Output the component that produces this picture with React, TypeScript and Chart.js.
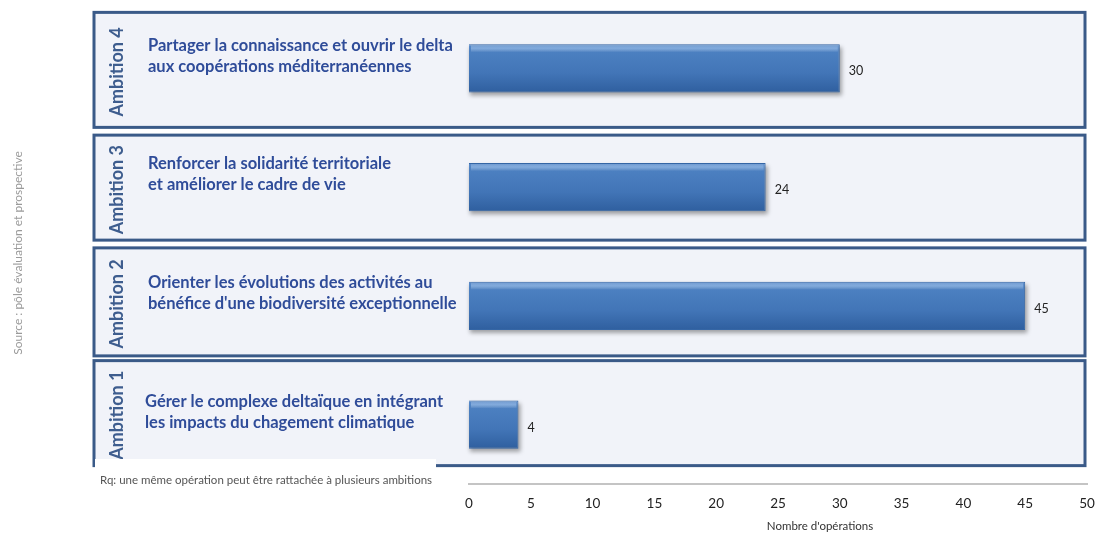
import React, { useEffect, useRef } from "react";
import { Chart, registerables } from "chart.js";

Chart.register(...registerables);

const ambitions = ["Ambition 4", "Ambition 3", "Ambition 2", "Ambition 1"];
const descriptions = [
  ["Partager la connaissance et ouvrir le delta", "aux coopérations méditerranéennes"],
  ["Renforcer la solidarité territoriale", "et améliorer le cadre de vie"],
  ["Orienter les évolutions des activités au", "bénéfice d'une biodiversité exceptionnelle"],
  ["Gérer le complexe deltaïque en intégrant", "les impacts du chagement climatique"],
];
const operations = [30, 24, 45, 4];
const xTicks = [0, 5, 10, 15, 20, 25, 30, 35, 40, 45, 50];
const axisTitle = "Nombre d'opérations";
const noteText = "Rq: une même opération peut être rattachée à plusieurs ambitions";
const sourceText = "Source : pôle évaluation et prospective";

const FONT = "Lato, 'Open Sans', sans-serif";
// box extents relative to each category centre (styling)
const BOX_TOP = [-56, -52, -58, -64];
const BOX_BOTTOM = [59, 53, 50, 41];

const decorPlugin = {
  id: "decor",
  beforeDatasetsDraw(chart: any) {
    const ctx = chart.ctx;
    const y = chart.scales.y;
    ctx.save();
    ctx.fillStyle = "#9a9a9a";
    ctx.font = `12px ${FONT}`;
    ctx.translate(18, 253);
    ctx.rotate(-Math.PI / 2);
    ctx.textAlign = "center";
    ctx.textBaseline = "middle";
    ctx.fillText(sourceText, 0, 0);
    ctx.restore();

    ambitions.forEach((name, i) => {
      const c = y.getPixelForValue(i);
      const top = c + BOX_TOP[i];
      const bottom = c + BOX_BOTTOM[i];
      ctx.save();
      ctx.fillStyle = "#f1f3f9";
      ctx.fillRect(94, top, 991, bottom - top);
      ctx.strokeStyle = "#3a5a88";
      ctx.lineWidth = 3;
      ctx.strokeRect(94, top, 991, bottom - top);
      ctx.save();
      ctx.translate(117, (top + bottom) / 2 + 2);
      ctx.rotate(-Math.PI / 2);
      ctx.fillStyle = "#3e5d8e";
      ctx.font = `bold 18px ${FONT}`;
      ctx.textAlign = "center";
      ctx.textBaseline = "middle";
      ctx.fillText(name, 0, 0);
      ctx.restore();
      ctx.fillStyle = "#2f4c99";
      ctx.font = `bold 16.5px ${FONT}`;
      ctx.textAlign = "left";
      ctx.textBaseline = "middle";
      const x0 = i === 3 ? 145 : 148;
      ctx.fillText(descriptions[i][0], x0, c - 23);
      ctx.fillText(descriptions[i][1], x0, c - 2);
      ctx.restore();
    });

    const meta = chart.getDatasetMeta(0);
    ctx.save();
    ctx.filter = "blur(2px)";
    ctx.fillStyle = "rgba(0,0,0,0.35)";
    meta.data.forEach((bar: any) => {
      const h = bar.height;
      ctx.fillRect(bar.base + 1, bar.y - h / 2 + 3, bar.x - bar.base + 1, h);
    });
    ctx.restore();
  },
  afterDatasetsDraw(chart: any) {
    const ctx = chart.ctx;
    const meta = chart.getDatasetMeta(0);
    ctx.save();
    ctx.fillStyle = "#222";
    ctx.font = `12.5px ${FONT}`;
    ctx.textAlign = "left";
    ctx.textBaseline = "middle";
    meta.data.forEach((bar: any, i: number) => {
      ctx.fillText(String(operations[i]), bar.x + 9, bar.y + 3);
    });
    meta.data.forEach((bar: any) => {
      const h = bar.height;
      const t = bar.y - h / 2;
      const g = ctx.createLinearGradient(0, t, 0, t + 8);
      g.addColorStop(0, "rgba(255,255,255,0.1)");
      g.addColorStop(0.5, "rgba(200,225,255,0.4)");
      g.addColorStop(1, "rgba(255,255,255,0)");
      ctx.fillStyle = g;
      ctx.fillRect(bar.base + 2, t + 1, bar.x - bar.base - 4, 7);
    });
    ctx.fillStyle = "#ffffff";
    ctx.fillRect(95, 459, 341, 40);
    ctx.fillStyle = "#555";
    ctx.font = `11.5px ${FONT}`;
    ctx.textAlign = "left";
    ctx.textBaseline = "middle";
    ctx.fillText(noteText, 100, 480);
    ctx.fillStyle = "#333";
    ctx.font = `11.5px ${FONT}`;
    ctx.textAlign = "center";
    ctx.fillText(axisTitle, 820, 526);
    ctx.restore();
  },
};

export default function App() {
  const ref = useRef<HTMLCanvasElement>(null);
  useEffect(() => {
    const canvas = ref.current!;
    const chart = new Chart(canvas, {
      type: "bar",
      data: {
        labels: ambitions,
        datasets: [
          {
            data: operations,
            backgroundColor: (ctx: any) => {
              const { chart } = ctx;
              const ys = chart.scales && chart.scales.y;
              if (!ys || !chart.chartArea || ctx.dataIndex === undefined) return "#4576b6";
              const cy = ys.getPixelForValue(ctx.dataIndex);
              if (!isFinite(cy)) return "#4576b6";
              const h = 48;
              const t = cy - h / 2;
              const g = chart.ctx.createLinearGradient(0, t, 0, t + h);
              g.addColorStop(0, "#5a8ccb");
              g.addColorStop(0.15, "#4c80c1");
              g.addColorStop(0.6, "#4275b7");
              g.addColorStop(1, "#2f5f9f");
              return g;
            },
            borderColor: "#3566a5",
            borderWidth: 1,
            barPercentage: 0.9,
            categoryPercentage: 0.45,
          },
        ],
      },
      options: {
        indexAxis: "y",
        animation: false,
        responsive: true,
        maintainAspectRatio: false,
        layout: { padding: { left: 469, right: 9, top: 9, bottom: 0 } },
        plugins: { legend: { display: false }, tooltip: { enabled: false } },
        scales: {
          y: { display: false },
          x: {
            min: 0,
            max: 50,
            afterBuildTicks: (s: any) => {
              s.ticks = xTicks.map((v) => ({ value: v }));
            },
            afterFit: (s: any) => {
              s.height = 49;
              s.paddingLeft = 0;
              s.paddingRight = 0;
            },
            grid: { display: false, drawTicks: false },
            border: { display: true, color: "#c4c4c4", width: 2 },
            ticks: {
              color: "#222",
              font: { family: FONT, size: 13.5 },
              padding: 12,
              maxRotation: 0,
            },
            title: { display: false },
          },
        },
      } as any,
      plugins: [decorPlugin],
    });
    return () => chart.destroy();
  }, []);
  return (
    <div style={{ position: "fixed", left: 0, top: 0, width: 1096, height: 533, background: "#fff" }}>
      <canvas ref={ref} />
    </div>
  );
}
